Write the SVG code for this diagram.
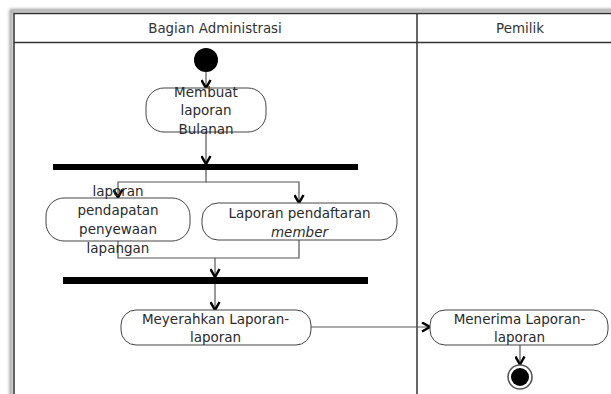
<svg xmlns="http://www.w3.org/2000/svg" width="611" height="394" viewBox="0 0 611 394">
<defs>
<filter id="sh" x="-5%" y="-5%" width="110%" height="110%">
<feGaussianBlur stdDeviation="1.8"/>
</filter>
<marker id="arr" viewBox="0 0 11 11" refX="9.5" refY="5.5" markerWidth="11" markerHeight="11" markerUnits="userSpaceOnUse" orient="auto">
<path d="M1.5,1 L9.5,5.5 L1.5,10" fill="none" stroke="#000" stroke-width="2.5" stroke-linejoin="miter"/>
</marker>
<style>
.lane{fill:none;stroke:#333;stroke-width:1.5}
.hdr{font-family:"DejaVu Sans",sans-serif;font-size:13.4px;fill:#333;text-anchor:middle}
.act{fill:#fff;stroke:#444;stroke-width:1}
.t{font-family:"DejaVu Sans",sans-serif;font-size:13.5px;fill:#2a2a2a;text-anchor:middle}
.bar{fill:#000}
.c{fill:none;stroke:#555;stroke-width:1.2;marker-end:url(#arr)}
.cn{fill:none;stroke:#555;stroke-width:1.2}
</style>
</defs>
<rect width="611" height="394" fill="#fff"/>
<g id="frame">
<rect x="11" y="10.5" width="620" height="400" fill="none" stroke="#999" stroke-width="3" filter="url(#sh)"/>
<rect x="14" y="13.5" width="620" height="400" fill="#fff" stroke="#333" stroke-width="1.5"/>
<line class="lane" x1="14" y1="42.5" x2="634" y2="42.5"/>
<line class="lane" x1="417" y1="13.5" x2="417" y2="400"/>
<text class="hdr" x="215" y="33">Bagian Administrasi</text>
<text class="hdr" x="520" y="33">Pemilik</text>
</g>
<g id="connectors">
<line class="c" x1="206" y1="72" x2="206" y2="88"/>
<line class="c" x1="206" y1="132" x2="206" y2="164"/>
<polyline class="c" points="206,170 206,182 118,182 118,197.5"/>
<polyline class="c" points="206,182 299,182 299,203"/>
<polyline class="cn" points="118,241 118,258 299,258 299,240"/>
<line class="c" x1="215" y1="258" x2="215" y2="277"/>
<line class="c" x1="215" y1="284" x2="215" y2="310"/>
<line class="c" x1="311" y1="327" x2="430" y2="327"/>
<line class="c" x1="520" y1="345" x2="520" y2="364.5"/>
</g>
<g id="start">
<circle cx="206" cy="60" r="12" fill="#000"/>
</g>
<g id="membuat">
<rect class="act" x="146" y="88" width="120" height="44" rx="18" ry="18"/>
<text class="t" x="206" y="96.5">Membuat</text>
<text class="t" x="206" y="115">laporan</text>
<text class="t" x="206" y="133.5">Bulanan</text>
</g>
<g id="fork">
<rect class="bar" x="53" y="164" width="305" height="6"/>
</g>
<g id="pendapatan">
<rect class="act" x="46" y="198" width="144" height="43" rx="18" ry="18"/>
<text class="t" x="118" y="196">laporan</text>
<text class="t" x="118" y="215">pendapatan</text>
<text class="t" x="118" y="234">penyewaan</text>
<text class="t" x="118" y="253">lapangan</text>
</g>
<g id="member">
<rect class="act" x="202" y="203" width="195" height="37" rx="16" ry="16"/>
<text class="t" x="299.5" y="218">Laporan pendaftaran</text>
<text class="t" x="299.5" y="236.5" font-style="italic">member</text>
</g>
<g id="join">
<rect class="bar" x="63" y="277" width="305" height="7"/>
</g>
<g id="meyerahkan">
<rect class="act" x="121" y="310" width="190" height="35" rx="15" ry="15"/>
<text class="t" x="215.5" y="323.5">Meyerahkan Laporan-</text>
<text class="t" x="215.5" y="342">laporan</text>
</g>
<g id="menerima">
<rect class="act" x="430" y="310" width="178" height="35" rx="15" ry="15"/>
<text class="t" x="519.5" y="323.5">Menerima Laporan-</text>
<text class="t" x="519.5" y="342">laporan</text>
</g>
<g id="end">
<circle cx="520" cy="377" r="12" fill="#fff" stroke="#555" stroke-width="1.6"/>
<circle cx="520" cy="377" r="9" fill="#000"/>
</g>
</svg>
